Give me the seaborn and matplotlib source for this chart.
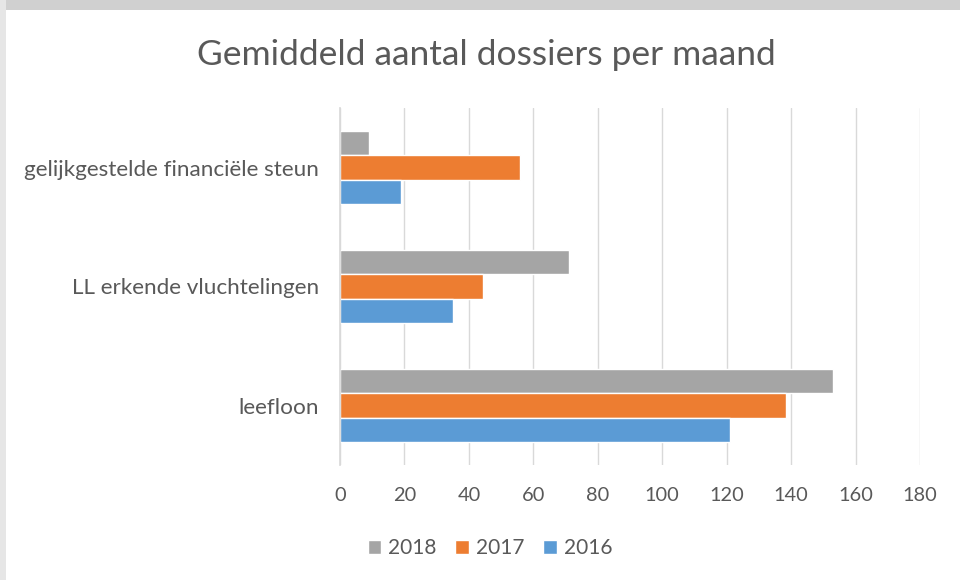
import matplotlib
matplotlib.use("Agg")
import matplotlib.pyplot as plt
import seaborn as sns
import pandas as pd
from matplotlib.patches import Rectangle

categories = ["gelijkgestelde financiële steun", "LL erkende vluchtelingen", "leefloon"]
years = ["2018", "2017", "2016"]
values_2018 = [9, 71, 153]
values_2017 = [56, 44.5, 138.5]
values_2016 = [19, 35, 121]
x_ticks = [0, 20, 40, 60, 80, 100, 120, 140, 160, 180]

colors = {"2018": "#A5A5A5", "2017": "#ED7D31", "2016": "#5B9BD5"}
text_color = "#595959"

rows = []
for yr, vals in zip(years, [values_2018, values_2017, values_2016]):
    for c, v in zip(categories, vals):
        rows.append({"categorie": c, "jaar": yr, "waarde": v})
df = pd.DataFrame(rows)

sns.set_theme(style="white")
plt.rcParams["font.family"] = ["Lato", "DejaVu Sans"]

fig = plt.figure(figsize=(9.6, 5.8), dpi=100)
fig.patch.set_facecolor("white")
# screenshot frame
fig.add_artist(Rectangle((0, 1 - 10 / 580), 1, 10 / 580, transform=fig.transFigure,
                         facecolor="#D0D0D0", edgecolor="none", zorder=0))
fig.add_artist(Rectangle((0, 0), 6 / 960, 1, transform=fig.transFigure,
                         facecolor="#E6E6E6", edgecolor="none", zorder=0))

ax = fig.add_axes([340 / 960, 1 - 465 / 580, 580 / 960, 357 / 580])
sns.barplot(data=df, y="categorie", x="waarde", hue="jaar", order=categories,
            hue_order=years, palette=colors, orient="h", width=0.62,
            saturation=1, ax=ax, legend=True)

ax.set_xlim(0, 180)
ax.set_xticks(x_ticks)
ax.set_xticklabels([str(t) for t in x_ticks])
ax.set_xlabel("")
ax.set_ylabel("")
ax.grid(axis="x", color="#D9D9D9", linewidth=1)
ax.set_axisbelow(True)
for s in ["top", "right", "bottom"]:
    ax.spines[s].set_visible(False)
ax.spines["left"].set_color("#D9D9D9")
ax.tick_params(axis="x", length=0, pad=16, labelsize=14.4, labelcolor=text_color)
ax.tick_params(axis="y", length=0, pad=15, labelsize=16.2, labelcolor=text_color)

handles, labels = ax.get_legend_handles_labels()
ax.get_legend().remove()
fig.legend(handles, labels, loc="center", bbox_to_anchor=(490 / 960, 1 - 548 / 580),
           ncol=3, frameon=False, fontsize=15, labelcolor=text_color,
           handlelength=0.65, handleheight=0.65, handletextpad=0.34, columnspacing=0.9)

fig.text(486 / 960, 1 - 55 / 580, "Gemiddeld aantal dossiers per maand",
         ha="center", va="center", fontsize=25.5, color=text_color)

fig.savefig("out.png", dpi=100)
